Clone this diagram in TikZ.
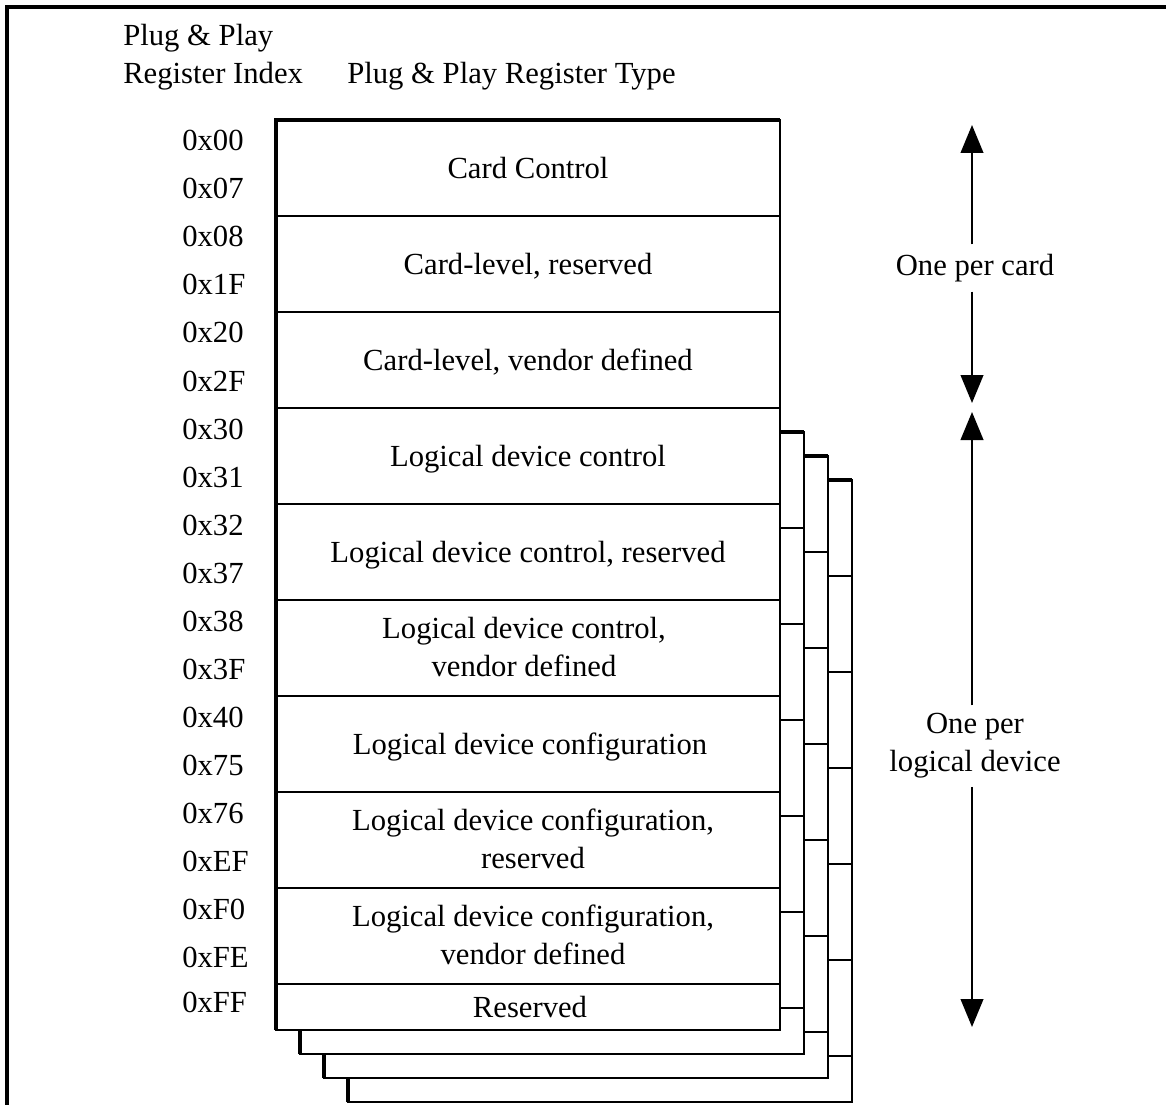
\documentclass[tikz,border=0pt]{standalone}
\usepackage{fontspec}
\setmainfont{Liberation Serif}
\usetikzlibrary{arrows.meta}
\newcommand\tstrut{\rule[-5pt]{0pt}{20pt}}
\begin{document}
\begin{tikzpicture}[x=0.75pt,y=-0.75pt,
  thinline/.style={line width=1.5pt},
  thickline/.style={line width=3pt},
  lbl/.style={font=\fontsize{23}{28.5}\selectfont, inner sep=0pt},
  rowtext/.style={lbl, align=center},
  idx/.style={lbl, anchor=base west},
  spanarrow/.style={line width=1.5pt, -{Triangle[width=17pt,length=21pt]}},
]
\useasboundingbox (0,0) rectangle (1166,1105);

% outer frame (top and left edges)
\draw[line width=2.4pt] (7,1105) -- (7,7) -- (1166,7);

% column headings
\node[idx] (hidx1) at (123,46) {Plug \& Play};
\node[idx] (hidx2) at (123,84) {Register Index};
\node[idx] (htype) at (347,84) {Plug \& Play Register Type};

% stacked copies of the logical device registers, back to front
\foreach \k in {3,2,1} {
  \fill[white] (276+24*\k,408+24*\k) rectangle (780+24*\k,1030+24*\k);
  \draw[thinline] (276+24*\k,408+24*\k) rectangle (780+24*\k,1030+24*\k);
  \foreach \yy in {504,600,696,792,888,984}
    \draw[thinline] (276+24*\k,\yy+24*\k) -- (780+24*\k,\yy+24*\k);
  \draw[thickline] (276+24*\k,1030+24*\k) -- (276+24*\k,408+24*\k) -- (780+24*\k,408+24*\k);
}

% main register table
\fill[white] (276,120) rectangle (780,1030);
\draw[thinline] (276,120) rectangle (780,1030);
\foreach \yy in {216,312,408,504,600,696,792,888,984}
  \draw[thinline] (276,\yy) -- (780,\yy);
\draw[thickline] (276,1030) -- (276,120) -- (780,120);

% register types
\node[rowtext] (r1) at (528,171) {\tstrut Card Control};
\node[rowtext] (r2) at (528,267) {\tstrut Card-level, reserved};
\node[rowtext] (r3) at (528,363) {\tstrut Card-level, vendor defined};
\node[rowtext] (r4) at (528,459) {\tstrut Logical device control};
\node[rowtext] (r5) at (528,555) {\tstrut Logical device control, reserved};
\node[rowtext] (r6) at (524,650) {\tstrut Logical device control,\\vendor defined\tstrut};
\node[rowtext] (r7) at (530,747) {\tstrut Logical device configuration};
\node[rowtext] (r8) at (533,842) {\tstrut Logical device configuration,\\reserved\tstrut};
\node[rowtext] (r9) at (533,938) {\tstrut Logical device configuration,\\vendor defined\tstrut};
\node[rowtext] (r10) at (530,1010) {\tstrut Reserved};

% register indices
\node[idx] (i00) at (182,151) {0x00};
\node[idx] (i07) at (182,199) {0x07};
\node[idx] (i08) at (182,247) {0x08};
\node[idx] (i1F) at (182,295) {0x1F};
\node[idx] (i20) at (182,343) {0x20};
\node[idx] (i2F) at (182,391) {0x2F};
\node[idx] (i30) at (182,439) {0x30};
\node[idx] (i31) at (182,487) {0x31};
\node[idx] (i32) at (182,535) {0x32};
\node[idx] (i37) at (182,583) {0x37};
\node[idx] (i38) at (182,631) {0x38};
\node[idx] (i3F) at (182,679) {0x3F};
\node[idx] (i40) at (182,727) {0x40};
\node[idx] (i75) at (182,775) {0x75};
\node[idx] (i76) at (182,823) {0x76};
\node[idx] (iEF) at (182,871) {0xEF};
\node[idx] (iF0) at (182,919) {0xF0};
\node[idx] (iFE) at (182,967) {0xFE};
\node[idx] (iFF) at (182,1012) {0xFF};

% extent annotations
\coordinate (cardtop) at (972,125);
\coordinate (cardbot) at (972,403);
\coordinate (devtop) at (972,412);
\coordinate (devbot) at (972,1027);
\node[rowtext, inner ysep=7pt] (card) at (975,268) {\tstrut One per card};
\node[rowtext, inner ysep=6pt] (dev) at (975,746) {\tstrut One per\\logical device\tstrut};
\draw[spanarrow] (card.north -| cardtop) -- (cardtop);
\draw[spanarrow] (card.south -| cardbot) -- (cardbot);
\draw[spanarrow] (dev.north -| devtop) -- (devtop);
\draw[spanarrow] (dev.south -| devbot) -- (devbot);
\end{tikzpicture}
\end{document}
